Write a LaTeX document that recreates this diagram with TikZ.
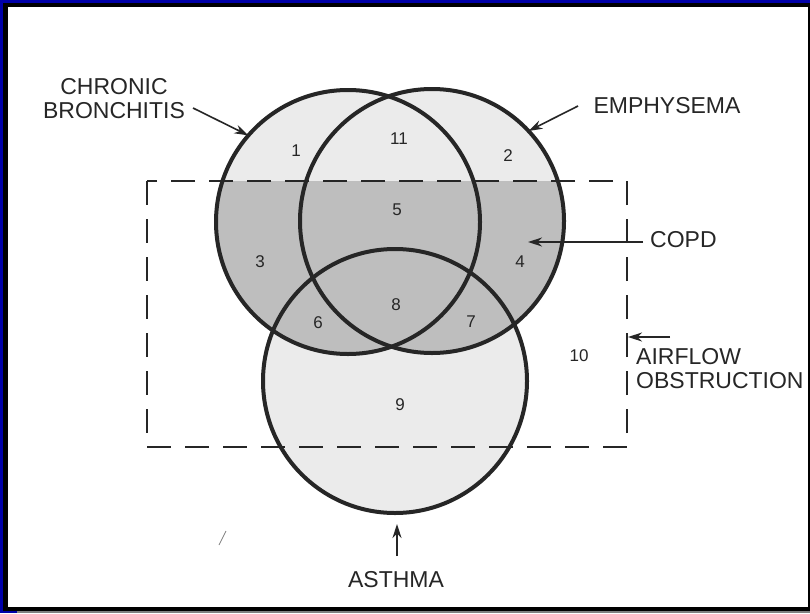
\documentclass[tikz,border=0pt]{standalone}
\usepackage{fontspec}
\setmainfont{Liberation Sans}
\usetikzlibrary{arrows.meta}
\definecolor{frameblue}{HTML}{0000A8}
\definecolor{lightfill}{HTML}{EBEBEB}
\definecolor{darkfill}{HTML}{BEBEBE}
\definecolor{inkc}{HTML}{262626}
\begin{document}
\begin{tikzpicture}[x=1pt,y=-1pt,
  setcircle/.style={circle,draw=inkc,line width=4pt,inner sep=0pt,outer sep=0pt,minimum size=264pt},
  lbl/.style={font=\fontsize{23}{24}\selectfont,text=inkc,inner sep=0pt},
  num/.style={font=\fontsize{17}{17}\selectfont,text=inkc,inner sep=0pt},
  pointer/.style={draw=inkc,line width=1.6pt,-{Stealth[length=14pt,width=9pt]}},
  boxline/.style={draw=inkc,line width=2.5pt,dash pattern=on 24pt off 14pt}]
% frame
\useasboundingbox (0,0) rectangle (810,613);
\fill[frameblue] (0,0) rectangle (810,613);
\fill[black] (3,3) rectangle (810,611);
\fill[white] (8,7) rectangle (808,607);
\fill[gray] (17,611) rectangle (810,613);
% centres
\coordinate (cbc) at (348,222);
\coordinate (emc) at (432,221);
\coordinate (asc) at (395,381);
% light fills
\fill[lightfill] (asc) circle[radius=132pt];
\fill[lightfill] (cbc) circle[radius=132pt];
\fill[lightfill] (emc) circle[radius=132pt];
% dark fill (COPD) = (CB u E) inside the airflow box
\begin{scope}
  \clip (147,181) rectangle (627,447);
  \fill[darkfill] (cbc) circle[radius=132pt];
  \fill[darkfill] (emc) circle[radius=132pt];
\end{scope}
% dashed box
\draw[boxline] (147,181) rectangle (627,447);
% circles
\node[setcircle] (cb) at (cbc) {};
\node[setcircle] (em) at (emc) {};
\node[setcircle] (as) at (asc) {};
% numbers
\node[num] (n1) at (296,151) {1};
\node[num] (n11) at (399,139) {11};
\node[num] (n2) at (508,156) {2};
\node[num] (n5) at (397,210) {5};
\node[num] (n3) at (260,262) {3};
\node[num] (n4) at (520,262) {4};
\node[num] (n8) at (396,305) {8};
\node[num] (n6) at (318,323) {6};
\node[num] (n7) at (471,322) {7};
\node[num] (n10) at (579,356) {10};
\node[num] (n9) at (400,405) {9};
% labels
\node[lbl,align=center] (cbl) at (114,99) {CHRONIC\\BRONCHITIS};
\node[lbl] (eml) at (667,106) {EMPHYSEMA};
\node[lbl,anchor=west] (copdl) at (650,240) {COPD};
\node[lbl,anchor=north west,align=left] (afl) at (636,348) {AIRFLOW\\OBSTRUCTION};
\node[lbl] (asl) at (396,580) {ASTHMA};
% pointers
\coordinate (cbs) at (193,108);
\coordinate (ems) at (578,106);
\coordinate (copds) at (643,242);
\coordinate (copdt) at (528,242);
\coordinate (afs) at (670,337);
\coordinate (aft) at (628,337);
\coordinate (ass) at (397,556);
\coordinate (ast) at (397,524);
\draw[pointer] (cbs) -- (cb.139);
\draw[pointer] (ems) -- (em.43);
\draw[pointer] (copds) -- (copdt);
\draw[pointer] (afs) -- (aft);
\draw[pointer] (ass) -- (ast);
% stray scan mark
\coordinate (m1) at (219,545);
\coordinate (m2) at (226,531);
\draw[gray,line width=0.8pt] (m1) -- (m2);
\end{tikzpicture}
\end{document}
